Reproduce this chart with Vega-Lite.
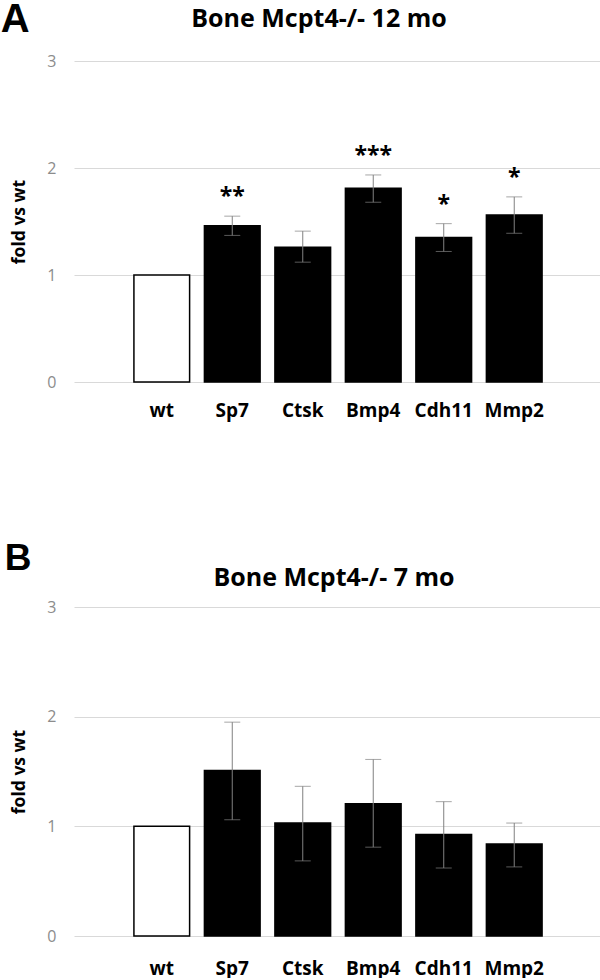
{
  "$schema": "https://vega.github.io/schema/vega-lite/v6.json",
  "padding": 0,
  "spacing": 120,
  "background": "white",
  "config": {"view": {"stroke": null}, "font": "Open Sans"},
  "datasets": {
    "a": [
      {"gene": "wt", "value": 1.0, "lo": null, "hi": null, "sig": ""},
      {"gene": "Sp7", "value": 1.46, "lo": 1.37, "hi": 1.55, "sig": "**"},
      {"gene": "Ctsk", "value": 1.26, "lo": 1.12, "hi": 1.41, "sig": ""},
      {"gene": "Bmp4", "value": 1.81, "lo": 1.68, "hi": 1.935, "sig": "***"},
      {"gene": "Cdh11", "value": 1.35, "lo": 1.22, "hi": 1.48, "sig": "*"},
      {"gene": "Mmp2", "value": 1.56, "lo": 1.39, "hi": 1.73, "sig": "*"}
    ],
    "b": [
      {"gene": "wt", "value": 1.0, "lo": null, "hi": null},
      {"gene": "Sp7", "value": 1.51, "lo": 1.06, "hi": 1.95},
      {"gene": "Ctsk", "value": 1.03, "lo": 0.685, "hi": 1.365},
      {"gene": "Bmp4", "value": 1.205, "lo": 0.81, "hi": 1.61},
      {"gene": "Cdh11", "value": 0.925, "lo": 0.62, "hi": 1.225},
      {"gene": "Mmp2", "value": 0.84, "lo": 0.63, "hi": 1.03}
    ]
  },
  "vconcat": [
    {
      "title": {"text": "A", "anchor": "start", "frame": "bounds", "font": "Liberation Sans", "fontSize": 40, "fontWeight": "bold", "color": "black", "offset": -33, "dx": -10},
      "vconcat": [
        {
          "width": 528,
          "height": 321,
          "title": {"text": "Bone Mcpt4-/- 12 mo", "frame": "group", "anchor": "middle", "font": "Open Sans", "fontSize": 25, "fontWeight": "bold", "color": "black", "offset": 21, "dx": -19},
          "data": {"name": "a"},
          "encoding": {
            "x": {"field": "gene", "type": "nominal", "sort": null,
              "scale": {"paddingInner": 0.21, "paddingOuter": 0.85},
              "axis": {"title": null, "labelAngle": 0, "labelFont": "Open Sans", "labelFontSize": 19, "labelFontWeight": "bold", "labelColor": "black", "labelPadding": 19, "ticks": false, "domain": false, "grid": false}}
          },
          "layer": [
            {
              "mark": {"type": "bar", "stroke": "black", "strokeWidth": 1.5},
              "encoding": {
                "y": {"field": "value", "type": "quantitative", "scale": {"domain": [0, 3]},
                  "axis": {"title": "fold vs wt", "titleFont": "Open Sans", "titleFontSize": 17.5, "titleFontWeight": "bold", "titleColor": "black", "titlePadding": 18, "values": [0, 1, 2, 3], "format": "d", "labelFont": "Open Sans", "labelFontSize": 16, "labelColor": "#8c8c8c", "labelPadding": 18, "ticks": false, "domain": false, "gridColor": "#d9d9d9"}},
                "fill": {"condition": {"test": "datum.gene === 'wt'", "value": "white"}, "value": "black"}
              }
            },
            {
              "mark": {"type": "rule", "color": "#808080", "strokeWidth": 1},
              "encoding": {"y": {"field": "lo", "type": "quantitative"}, "y2": {"field": "hi"}}
            },
            {
              "mark": {"type": "tick", "color": "#808080", "size": 16, "thickness": 1},
              "encoding": {"y": {"field": "hi", "type": "quantitative"}}
            },
            {
              "mark": {"type": "tick", "color": "#808080", "size": 16, "thickness": 1},
              "encoding": {"y": {"field": "lo", "type": "quantitative"}}
            },
            {
              "mark": {"type": "text", "font": "Open Sans", "fontSize": 23, "fontWeight": "bold", "color": "black", "baseline": "alphabetic", "dy": -12},
              "encoding": {"y": {"field": "hi", "type": "quantitative"}, "text": {"field": "sig"}}
            }
          ]
        }
      ]
    },
    {
      "title": {"text": "B", "anchor": "start", "frame": "bounds", "font": "Liberation Sans", "fontSize": 37, "fontWeight": "bold", "color": "black", "offset": -12, "dx": -6},
      "vconcat": [
        {
          "width": 528,
          "height": 329,
          "title": {"text": "Bone Mcpt4-/- 7 mo", "frame": "group", "anchor": "middle", "font": "Open Sans", "fontSize": 25, "fontWeight": "bold", "color": "black", "offset": 8, "dx": -4},
          "data": {"name": "b"},
          "encoding": {
            "x": {"field": "gene", "type": "nominal", "sort": null,
              "scale": {"paddingInner": 0.21, "paddingOuter": 0.85},
              "axis": {"title": null, "labelAngle": 0, "labelFont": "Open Sans", "labelFontSize": 19, "labelFontWeight": "bold", "labelColor": "black", "labelPadding": 23, "ticks": false, "domain": false, "grid": false}}
          },
          "layer": [
            {
              "mark": {"type": "bar", "stroke": "black", "strokeWidth": 1.5},
              "encoding": {
                "y": {"field": "value", "type": "quantitative", "scale": {"domain": [0, 3]},
                  "axis": {"title": "fold vs wt", "titleFont": "Open Sans", "titleFontSize": 17.5, "titleFontWeight": "bold", "titleColor": "black", "titlePadding": 18, "values": [0, 1, 2, 3], "format": "d", "labelFont": "Open Sans", "labelFontSize": 16, "labelColor": "#8c8c8c", "labelPadding": 18, "ticks": false, "domain": false, "gridColor": "#d9d9d9"}},
                "fill": {"condition": {"test": "datum.gene === 'wt'", "value": "white"}, "value": "black"}
              }
            },
            {
              "mark": {"type": "rule", "color": "#808080", "strokeWidth": 1},
              "encoding": {"y": {"field": "lo", "type": "quantitative"}, "y2": {"field": "hi"}}
            },
            {
              "mark": {"type": "tick", "color": "#808080", "size": 16, "thickness": 1},
              "encoding": {"y": {"field": "hi", "type": "quantitative"}}
            },
            {
              "mark": {"type": "tick", "color": "#808080", "size": 16, "thickness": 1},
              "encoding": {"y": {"field": "lo", "type": "quantitative"}}
            }
          ]
        }
      ]
    }
  ]
}
